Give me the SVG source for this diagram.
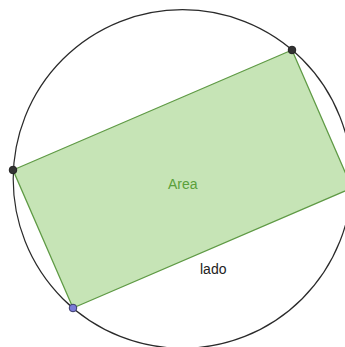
<svg xmlns="http://www.w3.org/2000/svg" width="345" height="347" viewBox="0 0 345 347">
<style>
.circ{fill:none;stroke:#2a2a2a;stroke-width:1.2}
.rect{fill:#c6e4b6;stroke:#5f9a45;stroke-width:1.3}
.pt{fill:#333;stroke:#222;stroke-width:1}
.bpt{fill:#7a7ad8;stroke:#3a3a6a;stroke-width:1}
.lbl{font-family:"Liberation Sans",Arial,sans-serif;font-size:14px}
</style>
<rect width="345" height="347" fill="#fff"/>
<g id="connectors">
<circle class="circ" cx="182.5" cy="179" r="169.3"/>
</g>
<g id="rectangle">
<polygon class="rect" points="13,170 292,50 352,188 73,308"/>
<text class="lbl" x="168" y="189" fill="#5aa03a">Area</text>
</g>
<g id="lado"><text class="lbl" x="200" y="274" fill="#222">lado</text></g>
<g id="pointA"><circle class="pt" cx="292" cy="50" r="3.8"/></g>
<g id="pointB"><circle class="pt" cx="13" cy="170" r="3.8"/></g>
<g id="pointC"><circle class="bpt" cx="73" cy="308" r="3.8"/></g>
</svg>
